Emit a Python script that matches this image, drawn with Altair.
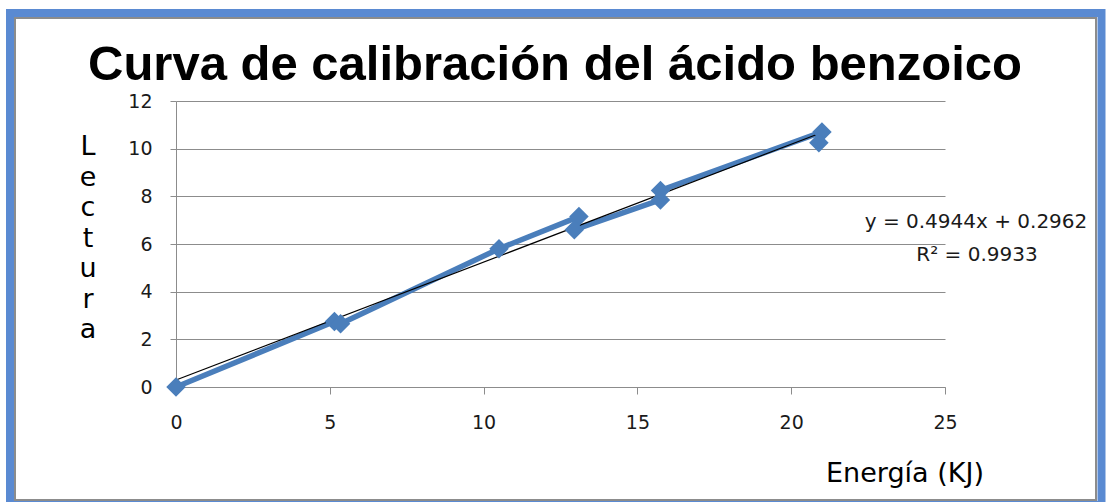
import altair as alt
import pandas as pd

# Calibration readings for benzoic acid: energy (kJ) against instrument reading
energia = [0, 5.15, 5.35, 10.5, 13.1, 12.95, 15.75, 15.75, 21.0, 20.9]
lectura = [0, 2.75, 2.65, 5.8, 7.15, 6.6, 7.85, 8.25, 10.7, 10.25]

# Linear trendline reported on the chart
pendiente = 0.4944
intercepto = 0.2962
r2 = 0.9933
trend_x = [0, 21]

x_ticks = [0, 5, 10, 15, 20, 25]
y_ticks = [0, 2, 4, 6, 8, 10, 12]

titulo = "Curva de calibración del ácido benzoico"
titulo_x = "Energía (KJ)"
titulo_y = "Lectura"

BLUE = "#4a7ebb"
FRAME = "#5a8ad2"
GRID = "#8c8c8c"

W, H = 769, 286
PAD_L, PAD_T = 176, 101

datos = pd.DataFrame({"energia": energia, "lectura": lectura, "orden": range(len(energia))})
trend = pd.DataFrame({"energia": trend_x})
uno = pd.DataFrame({"k": [0]})

xscale = alt.Scale(domain=[0, 25], nice=False, zero=False)
yscale = alt.Scale(domain=[0, 12], nice=False, zero=False)

xaxis = alt.Axis(values=x_ticks, grid=False, title=None, tickSize=7, labelPadding=19,
                 labelFlush=False, domainColor=GRID, tickColor=GRID, labelFont="DejaVu Sans",
                 labelFontSize=19, labelColor="#1a1a1a", format="d")
yaxis = alt.Axis(values=y_ticks, grid=True, gridColor=GRID, title=None, tickSize=6,
                 labelPadding=18, domainColor=GRID, tickColor=GRID, labelFont="DejaVu Sans",
                 labelFontSize=19, labelColor="#1a1a1a", format="d")

base = alt.Chart(datos)

linea = base.mark_line(color=BLUE, strokeWidth=5.5).encode(
    x=alt.X("energia:Q", scale=xscale, axis=xaxis),
    y=alt.Y("lectura:Q", scale=yscale, axis=yaxis),
    order="orden:Q",
)

puntos = base.mark_point(shape="diamond", filled=True, size=380, color=BLUE, opacity=1).encode(
    x=alt.X("energia:Q", scale=xscale),
    y=alt.Y("lectura:Q", scale=yscale),
)

tendencia = alt.Chart(trend).transform_calculate(
    lectura=f"{pendiente} * datum.energia + {intercepto}"
).mark_line(color="black", strokeWidth=1.2).encode(
    x=alt.X("energia:Q", scale=xscale),
    y=alt.Y("lectura:Q", scale=yscale),
)

# Outer frame: thick blue band with a thin grey inner line
marco = alt.Chart(uno).mark_rect(fillOpacity=0, stroke=FRAME, strokeWidth=8).encode(
    x=alt.value(10 - PAD_L), x2=alt.value(1101.5 - PAD_L),
    y=alt.value(13 - PAD_T), y2=alt.value(505 - PAD_T),
)
marco_in = alt.Chart(uno).mark_rect(fillOpacity=0, stroke=GRID, strokeWidth=2).encode(
    x=alt.value(15 - PAD_L), x2=alt.value(1096 - PAD_L),
    y=alt.value(18 - PAD_T), y2=alt.value(500 - PAD_T),
)

t_titulo = alt.Chart(uno).mark_text(
    text=titulo, font="Liberation Sans", fontWeight="bold", fontSize=49,
    align="center", baseline="alphabetic", color="black",
).encode(x=alt.value(555 - PAD_L), y=alt.value(80 - PAD_T))

t_y = alt.Chart(uno).mark_text(
    text="\n".join(titulo_y), lineBreak="\n", lineHeight=30.5, font="DejaVu Sans",
    fontSize=27, align="center", baseline="alphabetic", color="black",
).encode(x=alt.value(88 - PAD_L), y=alt.value(155 - PAD_T))

t_x = alt.Chart(uno).mark_text(
    text=titulo_x, font="DejaVu Sans", fontSize=27, align="center",
    baseline="alphabetic", color="black",
).encode(x=alt.value(905 - PAD_L), y=alt.value(482 - PAD_T))

eq1 = alt.Chart(uno).mark_text(
    text=f"y = {pendiente}x + {intercepto}", font="DejaVu Sans", fontSize=20,
    align="center", baseline="alphabetic", color="#1a1a1a",
).encode(x=alt.value(976 - PAD_L), y=alt.value(228 - PAD_T))

eq2 = alt.Chart(uno).mark_text(
    text=f"R² = {r2}", font="DejaVu Sans", fontSize=20,
    align="center", baseline="alphabetic", color="#1a1a1a",
).encode(x=alt.value(977 - PAD_L), y=alt.value(261 - PAD_T))

chart = alt.layer(
    marco, marco_in, linea, tendencia, puntos, t_titulo, t_y, t_x, eq1, eq2
).properties(
    width=W, height=H,
    autosize=alt.AutoSizeParams(type="none"),
    padding={"left": PAD_L, "top": PAD_T, "right": 1109 - PAD_L - W, "bottom": 502 - PAD_T - H},
    background="white",
).configure_view(strokeWidth=0)

chart.save("out.html", embed_options={"renderer": "svg", "actions": False})
